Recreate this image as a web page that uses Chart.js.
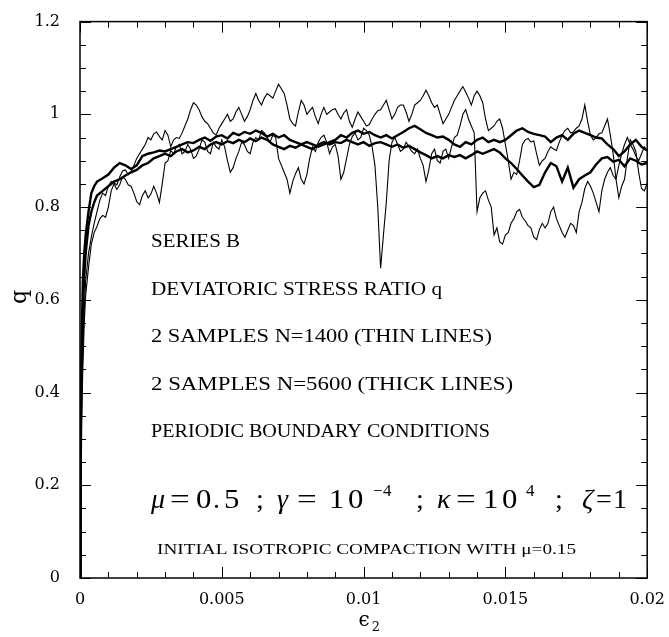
<!DOCTYPE html>
<html>
<head>
    <title>Series B - deviatoric stress ratio q</title>
    <script src="https://cdn.jsdelivr.net/npm/chart.js"></script>
    <style>
        body {
            margin: 0;
            background-color: #fff;
        }
        .chart-box {
            position: relative;
            width: 669px;
            height: 637px;
        }
    </style>
</head>
<body>
    <div class="chart-box">
        <canvas id="qChart"></canvas>
    </div>

    <script>
        // strain samples: a few close points for the initial rise, then regular grids
        const earlyStrain = [0, 0.00002, 0.00005, 0.0001, 0.00015, 0.0002, 0.0003, 0.0004, 0.0005];
        const strainCoarse = earlyStrain.slice();
        for (let k = 0; k <= 97; k++) strainCoarse.push(+(0.0006 + k * 0.0002).toFixed(5));
        const strainFine = earlyStrain.slice();
        for (let k = 0; k <= 194; k++) strainFine.push(+(0.0006 + k * 0.0001).toFixed(5));

        // N=5600, thick lines (coarse grid)
        const thick1 = [0, .25, .48, .64, .70, .74, .79, .83, .845,
            .855, .862, .87, .885, .895, .89, .882, .89, .91, .915,
            .918, .922, .92, .925, .93, .935, .94, .938, .945, .95,
            .943, .952, .955, .948, .96, .955, .962, .958, .965, .96,
            .952, .958, .95, .955, .945, .94, .935, .94, .935, .93,
            .935, .94, .945, .955, .95, .96, .965, .958, .962, .955,
            .95, .955, .948, .955, .962, .97, .975, .968, .96, .955,
            .95, .952, .945, .935, .93, .94, .935, .945, .95, .94,
            .945, .94, .945, .955, .965, .97, .962, .958, .955, .952,
            .94, .95, .955, .945, .958, .965, .96, .955, .95, .948,
            .935, .925, .91, .92, .935, .945, .93, .922];
        const thick2 = [0, .2, .42, .58, .65, .70, .76, .79, .81,
            .825, .835, .845, .855, .86, .868, .875, .88, .89, .895,
            .905, .91, .915, .91, .92, .925, .918, .922, .93, .925,
            .935, .94, .935, .942, .938, .945, .94, .948, .942, .95,
            .945, .935, .93, .925, .932, .928, .935, .93, .925, .935,
            .94, .935, .94, .938, .945, .94, .935, .94, .932, .938,
            .94, .935, .93, .935, .928, .932, .925, .918, .912, .905,
            .91, .905, .912, .908, .912, .905, .912, .92, .915, .92,
            .925, .918, .905, .895, .882, .868, .855, .843, .848, .875,
            .895, .888, .855, .885, .842, .86, .868, .875, .892, .905,
            .908, .898, .902, .888, .905, .9, .892, .895];

        // N=1400, thin lines (fine grid)
        const thinA = [0, .15, .33, .45, .55, .61, .67, .72, .745,
            .758, .775, .782, .778, .80, .835, .85, .838, .848, .865,
            .86, .848, .845, .83, .812, .805, .825, .835, .82, .828,
            .845, .83, .81, .85, .895, .9, .922, .915, .93, .935,
            .915, .92, .935, .925, .905, .91, .925, .945, .94, .92,
            .915, .94, .93, .925, .945, .93, .9, .875, .885, .905,
            .92, .94, .935, .92, .915, .94, .95, .945, .965, .96,
            .95, .94, .955, .95, .905, .89, .875, .86, .83, .855,
            .872, .885, .86, .85, .87, .905, .93, .92, .94, .95,
            .955, .94, .915, .93, .935, .91, .86, .875, .905, .935,
            .952, .96, .945, .95, .97, .965, .955, .93, .89, .80,
            .668, .74, .81, .9, .94, .95, .935, .92, .925, .94,
            .93, .92, .915, .925, .905, .89, .855, .88, .915, .925,
            .9, .895, .92, .925, .905, .93, .95, .955, .975, 1.0,
            1.01, .99, .975, .96, .79, .82, .83, .835, .815, .8,
            .74, .755, .725, .72, .74, .745, .765, .775, .79, .795,
            .778, .77, .76, .755, .735, .73, .752, .765, .755, .765,
            .79, .8, .775, .76, .745, .735, .75, .765, .76, .745,
            .79, .81, .84, .855, .845, .83, .81, .79, .835, .86,
            .875, .885, .868, .86, .89, .915, .935, .95, .935, .925,
            .91, .9, .915, .93, .922];
        const thinB = [0, .17, .37, .5, .58, .64, .70, .735, .765,
            .79, .815, .83, .825, .845, .855, .852, .848, .865, .878,
            .88, .87, .875, .89, .905, .915, .925, .935, .95, .945,
            .958, .962, .952, .945, .965, .955, .93, .945, .95, .948,
            .96, .975, .99, 1.01, 1.025, 1.02, 1.01, .995, .985, .98,
            .97, .96, .955, .97, .98, .99, 1.0, .985, .99, 1.005,
            1.015, 1.0, .985, .995, 1.01, 1.03, 1.045, 1.03, 1.02, 1.035,
            1.045, 1.04, 1.035, 1.05, 1.065, 1.055, 1.045, 1.02, .99, .98,
            .975, 1.005, 1.03, 1.02, 1.0, 1.008, 1.015, .995, .98, 1.0,
            1.015, 1.0, 1.005, 1.01, 1.012, 1.0, .99, 1.003, 1.01, .985,
            .972, .99, 1.005, .995, .985, .975, .978, .99, 1.0, 1.008,
            1.01, 1.02, 1.03, 1.01, .99, 1.0, 1.015, 1.02, 1.02, 1.005,
            .985, 1.0, 1.02, 1.025, 1.03, 1.04, 1.052, 1.04, 1.025, 1.015,
            1.02, 1.0, .98, .99, 1.0, 1.015, 1.03, 1.04, 1.05, 1.06,
            1.048, 1.035, 1.02, 1.04, 1.05, 1.04, 1.025, .99, .965, .97,
            .975, .985, .99, .97, .935, .9, .86, .875, .87, .9,
            .935, .945, .948, .94, .943, .915, .89, .9, .905, .92,
            .93, .925, .922, .94, .955, .965, .97, .96, .962, .97,
            .975, .99, 1.02, .985, .955, .945, .95, .958, .96, .975,
            .99, .955, .915, .86, .82, .845, .86, .905, .945, .935,
            .92, .875, .84, .835, .852];

        const xTickLabels = ['0', '0.005', '0.01', '0.015', '0.02'];
        const yTickLabels = ['0', '0.2', '0.4', '0.6', '0.8', '1', '1.2'];

        const noteLines = [
            'SERIES B',
            'DEVIATORIC STRESS RATIO q',
            '2 SAMPLES N=1400 (THIN LINES)',
            '2 SAMPLES N=5600 (THICK LINES)',
            'PERIODIC BOUNDARY CONDITIONS'
        ];
        const footNote = 'INITIAL ISOTROPIC COMPACTION WITH \u03bc=0.15';

        function lineSet(values, xs, width) {
            return {
                data: values.map((q, i) => ({ x: xs[i], y: q })),
                borderColor: '#000',
                borderWidth: width,
                pointRadius: 0,
                tension: 0,
                fill: false
            };
        }

        const serif = '"DejaVu Serif", "Liberation Serif", serif';
        const lightSerif = '"Liberation Serif", "DejaVu Serif", serif';

        // draw text squeezed/stretched to a given width
        function fitText(ctx, text, x, y, width, font) {
            ctx.font = font;
            const w = ctx.measureText(text).width;
            ctx.save();
            ctx.translate(x, y);
            ctx.scale(width / w, 1);
            ctx.fillText(text, 0, 0);
            ctx.restore();
        }

        // one glyph, optionally widened
        function glyph(ctx, ch, x, y, font, sx) {
            ctx.font = font;
            ctx.save();
            ctx.translate(x, y);
            ctx.scale(sx || 1, 1);
            ctx.fillText(ch, 0, 0);
            ctx.restore();
        }

        const framePlugin = {
            id: 'frame',
            afterDatasetsDraw(chart) {
                const { ctx, chartArea: a, scales } = chart;
                ctx.save();
                ctx.strokeStyle = '#000';
                ctx.lineWidth = 1.5;
                ctx.strokeRect(a.left, a.top, a.right - a.left, a.bottom - a.top);
                ctx.lineWidth = 1;
                ctx.beginPath();
                for (let i = 0; i <= 20; i++) {
                    const px = Math.round(scales.x.getPixelForValue(i * 0.001)) + 0.5;
                    const len = i % 5 === 0 ? 11 : 6;
                    ctx.moveTo(px, a.bottom); ctx.lineTo(px, a.bottom - len);
                    ctx.moveTo(px, a.top); ctx.lineTo(px, a.top + len);
                }
                for (let i = 0; i <= 24; i++) {
                    const py = Math.round(scales.y.getPixelForValue(i * 0.05)) + 0.5;
                    const len = i % 4 === 0 ? 11 : 6;
                    ctx.moveTo(a.left, py); ctx.lineTo(a.left + len, py);
                    ctx.moveTo(a.right, py); ctx.lineTo(a.right - len, py);
                }
                ctx.stroke();
                ctx.restore();
            },
            afterDraw(chart) {
                const { ctx } = chart;
                ctx.save();
                ctx.fillStyle = '#000';
                ctx.textBaseline = 'alphabetic';
                ctx.textAlign = 'left';

                const noteWidths = [89, 291, 341, 362, 339];
                noteLines.forEach((t, i) => {
                    fitText(ctx, t, 151, 247 + i * 47.5, noteWidths[i], '18px ' + lightSerif);
                });
                fitText(ctx, footNote, 157, 554, 419, '15px ' + lightSerif);

                // parameter line, glyph by glyph
                const big = '28px ' + lightSerif;
                const it = 'italic 28px ' + lightSerif;
                const sup = '17px ' + lightSerif;
                const base = 508;
                const parts = [
                    ['\u03bc', 151, it], ['=', 170, big, 1.25], ['0', 196, big, 1.1], ['.', 213, big], ['5', 224, big, 1.1],
                    [';', 256, big],
                    ['\u03b3', 277, it], ['=', 297, big, 1.25], ['1', 329, big, 1.1], ['0', 348, big, 1.1],
                    [';', 416, big],
                    ['\u03ba', 437, it], ['=', 456, big, 1.25], ['1', 483, big, 1.1], ['0', 502, big, 1.1],
                    [';', 555, big],
                    ['\u03b6', 582, it], ['=', 596, big], ['1', 613, big]
                ];
                parts.forEach(p => glyph(ctx, p[0], p[1], base, p[2], p[3]));
                glyph(ctx, '\u2212', 373, base - 12, sup);
                glyph(ctx, '4', 383, base - 12, sup);
                glyph(ctx, '4', 526, base - 12, sup);

                // axis titles
                ctx.font = '22px ' + serif;
                ctx.textAlign = 'center';
                ctx.textBaseline = 'middle';
                ctx.save();
                ctx.translate(20, 297);
                ctx.rotate(-Math.PI / 2);
                ctx.fillText('q', 0, 0);
                ctx.restore();
                ctx.font = '20px ' + serif;
                ctx.fillText('\u03f5', 364, 621);
                ctx.font = '13px ' + serif;
                ctx.fillText('2', 376, 628);
                ctx.restore();
            }
        };

        new Chart(document.getElementById('qChart').getContext('2d'), {
            type: 'line',
            data: {
                datasets: [
                    lineSet(thinA, strainFine, 1.1),
                    lineSet(thinB, strainFine, 1.1),
                    lineSet(thick1, strainCoarse, 2.4),
                    lineSet(thick2, strainCoarse, 2.4)
                ]
            },
            options: {
                responsive: true,
                maintainAspectRatio: false,
                animation: false,
                layout: { padding: { top: 8, right: 18, left: 0, bottom: 0 } },
                plugins: {
                    legend: { display: false },
                    tooltip: { enabled: false }
                },
                scales: {
                    x: {
                        type: 'linear',
                        min: 0,
                        max: 0.02,
                        grid: { display: false },
                        border: { display: false },
                        afterFit(scale) { scale.height = 59; },
                        ticks: {
                            stepSize: 0.005,
                            maxRotation: 0,
                            padding: 4,
                            color: '#000',
                            font: { family: serif, size: 16 },
                            callback: (v, i) => xTickLabels[i]
                        }
                    },
                    y: {
                        min: 0,
                        max: 1.2,
                        grid: { display: false },
                        border: { display: false },
                        afterFit(scale) { scale.width = 80; },
                        ticks: {
                            stepSize: 0.2,
                            padding: 12,
                            color: '#000',
                            font: { family: serif, size: 16 },
                            callback: (v, i) => yTickLabels[i]
                        }
                    }
                }
            },
            plugins: [framePlugin]
        });
    </script>
</body>
</html>
